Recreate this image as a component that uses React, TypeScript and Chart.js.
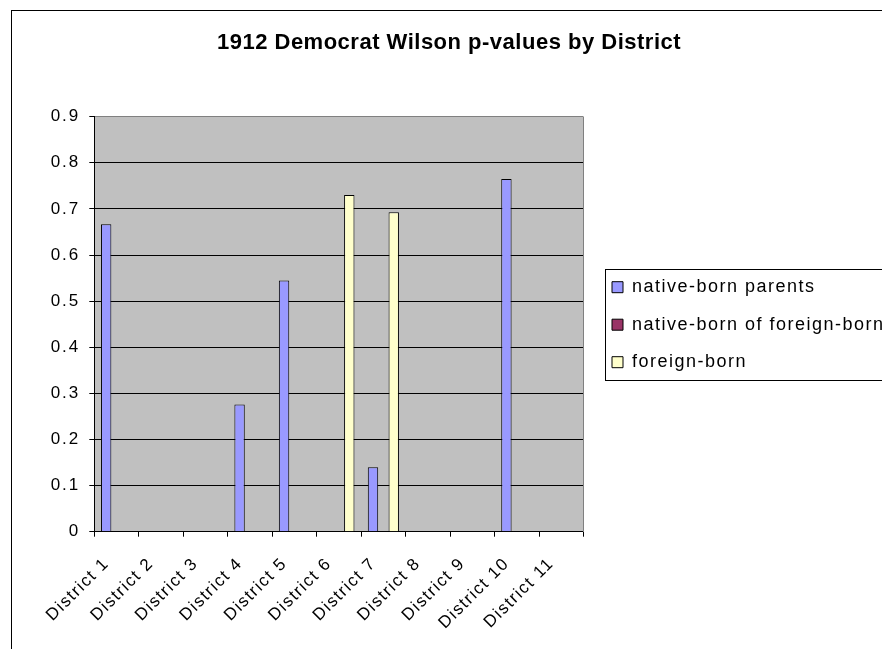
import React, { useEffect, useRef } from 'react';
import { Chart, registerables } from 'chart.js';

Chart.register(...registerables);

const TITLE = '1912 Democrat Wilson p-values by District';
const districts = [
  'District 1', 'District 2', 'District 3', 'District 4', 'District 5', 'District 6',
  'District 7', 'District 8', 'District 9', 'District 10', 'District 11',
];
const seriesNames = ['native-born parents', 'native-born of foreign-born', 'foreign-born'];
const nativeBornParents = [0.667, null, null, 0.276, 0.545, null, 0.14, null, null, 0.765, null];
const nativeBornOfForeignBorn = [null, null, null, null, null, null, null, null, null, null, null];
const foreignBorn = [null, null, null, null, null, 0.73, 0.693, null, null, null, null];
const seriesColors = ['#9999FF', '#993366', '#FFFFCC'];

const FONT = "'Liberation Sans', Arial, Helvetica, sans-serif";
const W = 882;
const H = 649;
const Y_TICK_LS = '2px';
const X_TICK_LS = '1.5px';
const LEGEND_LS = '1.5px';
const TITLE_LS = '0.5px';
const LEGEND_PAD = 19.5;
const LEGEND_FS = 18;

function wrapMethod(obj: any, method: string, ls: string) {
  if (!obj) return;
  const flag = '__ls_' + method;
  if (obj[flag]) return;
  const orig = obj[method];
  if (typeof orig !== 'function') return;
  obj[method] = function (...args: any[]) {
    const c = this.ctx;
    c.save();
    c.letterSpacing = ls;
    try {
      orig.apply(this, args);
    } finally {
      c.restore();
    }
  };
  obj[flag] = true;
}

const excelLook = {
  id: 'excelLook',
  beforeLayout(chart: any) {
    chart.ctx.letterSpacing = Y_TICK_LS;
  },
  beforeDraw(chart: any) {
    const { ctx, chartArea: a } = chart;
    ctx.letterSpacing = Y_TICK_LS;
    wrapMethod(chart.titleBlock, 'draw', TITLE_LS);
    wrapMethod(chart.legend, 'draw', LEGEND_LS);
    wrapMethod(chart.scales.x, 'drawLabels', X_TICK_LS);
    wrapMethod(chart.scales.y, 'drawLabels', Y_TICK_LS);
    ctx.save();
    ctx.fillStyle = '#C0C0C0';
    ctx.fillRect(a.left, a.top, a.right - a.left, a.bottom - a.top);
    ctx.restore();
  },
  beforeDatasetsDraw(chart: any) {
    const { ctx, chartArea: a } = chart;
    ctx.save();
    ctx.strokeStyle = '#808080';
    ctx.lineWidth = 1;
    const x = Math.round(a.right) - 0.5;
    ctx.beginPath();
    ctx.moveTo(x, Math.round(a.top));
    ctx.lineTo(x, Math.round(a.bottom));
    ctx.stroke();
    ctx.restore();
  },
  afterDraw(chart: any) {
    const { ctx } = chart;
    ctx.save();
    ctx.strokeStyle = '#000';
    ctx.lineWidth = 1;
    ctx.strokeRect(3.5, 2.5, W + 20, H + 20);
    const lg = chart.legend;
    if (lg) {
      const itemH = LEGEND_FS + LEGEND_PAD;
      const colH = lg.columnSizes && lg.columnSizes[0] ? lg.columnSizes[0].height : 3 * itemH;
      const y0 = (lg.top + LEGEND_PAD + lg.bottom - colH) / 2;
      const top = Math.round(y0 - 9) + 0.5;
      const bottom = Math.round(y0 + 2 * itemH + 9 + 18) + 0.5;
      const left = Math.round(lg.left + 12.5) + 0.5;
      ctx.strokeRect(left, top, W, bottom - top);
    }
    ctx.restore();
  },
};

export default function App() {
  const ref = useRef<HTMLCanvasElement>(null);

  useEffect(() => {
    const canvas = ref.current;
    if (!canvas) return;
    const data = [nativeBornParents, nativeBornOfForeignBorn, foreignBorn];
    const chart = new Chart(canvas, {
      type: 'bar',
      data: {
        labels: districts,
        datasets: seriesNames.map((name, i) => ({
          label: name,
          data: data[i] as any,
          backgroundColor: seriesColors[i],
          borderColor: '#000',
          borderWidth: 1,
          categoryPercentage: 0.7,
          barPercentage: 1.0,
        })),
      },
      options: {
        responsive: false,
        animation: false,
        layout: { padding: { left: 0, right: 0, top: 0, bottom: 15.6 } },
        scales: {
          x: {
            offset: true,
            grid: {
              display: true,
              drawOnChartArea: false,
              drawTicks: true,
              tickLength: 5,
              color: '#000',
              lineWidth: 1,
            },
            border: { display: true, color: '#000', width: 1 },
            ticks: {
              font: { family: FONT, size: 17 },
              color: '#000',
              maxRotation: 45,
              minRotation: 45,
              autoSkip: false,
              padding: 17,
              labelOffset: -10,
            },
            afterFit: (s: any) => {
              s.height = 109.7;
            },
          },
          y: {
            min: 0,
            max: 0.9,
            ticks: {
              stepSize: 0.1,
              font: { family: FONT, size: 17 },
              color: '#000',
              padding: 9,
              callback: (v: any) => String(Number(Number(v).toFixed(1))),
            },
            grid: {
              color: (c: any) => (c.tick && Math.abs(c.tick.value - 0.9) < 1e-6 ? '#808080' : '#000'),
              tickColor: '#000',
              tickLength: 5,
              lineWidth: 1,
              drawTicks: true,
            },
            border: { display: true, color: '#000', width: 1 },
            afterFit: (s: any) => {
              s.width = 86.3;
            },
          },
          y2: {
            position: 'right',
            display: true,
            grid: { display: false, drawTicks: false },
            border: { display: false },
            ticks: { display: false },
            afterFit: (s: any) => {
              s.width = 9;
            },
          },
        },
        plugins: {
          title: {
            display: true,
            text: TITLE,
            color: '#000',
            font: { family: FONT, size: 22, weight: 'bold' },
            padding: { top: 21.6, bottom: 60.7 },
          },
          legend: {
            display: true,
            position: 'right',
            maxWidth: 297.5,
            labels: {
              color: '#000',
              font: { family: FONT, size: LEGEND_FS },
              boxWidth: 11,
              boxHeight: 11,
              padding: LEGEND_PAD,
            },
          },
          tooltip: { enabled: false },
        },
      } as any,
      plugins: [excelLook],
    });
    return () => chart.destroy();
  }, []);

  return (
    <div style={{ width: W, height: H, marginBottom: -8 }}>
      <canvas ref={ref} width={W} height={H} style={{ display: 'block' }} />
    </div>
  );
}
